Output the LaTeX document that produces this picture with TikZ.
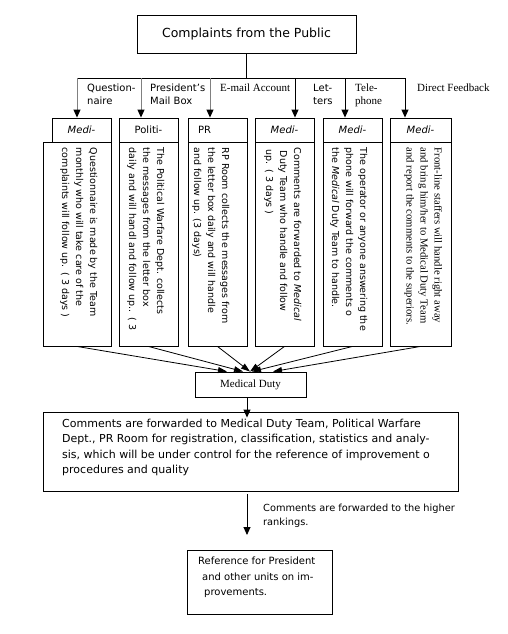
\documentclass[tikz,border=0pt]{standalone}
\usepackage{fontspec}
\setmainfont{DejaVu Sans}
\newfontfamily\serifd{Liberation Serif}
\usetikzlibrary{arrows.meta}
\begin{document}
\begin{tikzpicture}[x=1pt,y=-1pt,
  box/.style={draw, line width=0.9pt, inner sep=0pt},
  arr/.style={line width=0.9pt, -{Triangle[length=8pt,width=7pt]}},
  garr/.style={line width=0.9pt, draw=gray, -{Triangle[length=8pt,width=7pt,color=black]}},
  carr/.style={line width=0.8pt, -{Triangle[length=9pt,width=6pt]}},
  coltext/.style={anchor=north west, rotate=-90, align=left, inner sep=0pt, font=\fontsize{9.5}{14}\selectfont},
  hdr/.style={box, minimum height=24pt, font=\fontsize{10}{12}\selectfont},
  lbl/.style={anchor=north west, inner sep=0pt, align=left, font=\fontsize{10}{13}\selectfont},
  slbl/.style={anchor=north west, inner sep=0pt, align=left, font=\serifd\fontsize{11}{13}\selectfont}]
\fill[white] (0,0) rectangle (508,634);
\useasboundingbox (0,0) rectangle (508,634);

% top
\node[box, minimum width=219pt, minimum height=38pt, font=\fontsize{12.5}{15}\selectfont] (top) at (246.5,34) {Complaints from the Public};
\coordinate (bl) at (77,78);
\coordinate (br) at (405,78);
\draw[line width=0.9pt] (top.south) -- (top.south |- bl);
\draw[line width=0.9pt] (bl) -- (br);

% headers
\node[hdr, minimum width=59pt] (h1) at (81.5,130) {\itshape Medi-};
\node[hdr, minimum width=59pt] (h2) at (148.5,130) {Politi-};
\node[hdr, minimum width=59pt, text width=39pt, align=left] (h3) at (217.5,130) {PR};
\node[hdr, minimum width=59pt] (h4) at (284.5,130) {\itshape Medi-};
\node[hdr, minimum width=59pt] (h5) at (352.5,130) {\itshape Medi-};
\node[hdr, minimum width=61pt] (h6) at (420.5,130) {\itshape Medi-};

% bodies
\node[box, minimum width=68pt, minimum height=204pt] (c1) at (77,244) {};
\node[box, minimum width=59pt, minimum height=204pt] (c2) at (148.5,244) {};
\node[box, minimum width=59pt, minimum height=204pt] (c3) at (217.5,244) {};
\node[box, minimum width=59pt, minimum height=204pt] (c4) at (284.5,244) {};
\node[box, minimum width=59pt, minimum height=204pt] (c5) at (352.5,244) {};
\node[box, minimum width=61pt, minimum height=204pt] (c6) at (420.5,244) {};

% arrows from bus
\coordinate (t1) at (77,78);
\coordinate (t2) at (141,78);
\coordinate (t3) at (210,78);
\coordinate (t4) at (295,78);
\coordinate (t5) at (345,78);
\coordinate (t6) at (405,78);
\draw[garr] (t1) -- (t1 |- h1.north);
\draw[garr] (t2) -- (t2 |- h2.north);
\draw[garr] (t3) -- (t3 |- h3.north);
\draw[arr] (t4) -- (t4 |- h4.north);
\draw[arr] (t5) -- (t5 |- h5.north);
\draw[arr] (t6) -- (t6 |- h6.north);

% labels on bus arrows
\node[lbl] (l1) at (87,84) {Question-\\naire};
\node[lbl] (l2) at (150,84) {President's\\Mail Box};
\node[slbl] (l3) at (220,84) {E-mail Account};
\node[lbl] (l4) at (313,84) {Let-\\ters};
\node[slbl] (l5) at (355,84) {Tele-\\phone};
\node[slbl] (l6) at (417,84) {Direct Feedback};

% column texts
\node[coltext] (x1) at ([xshift=-14pt,yshift=-6pt]c1.north east) {Questionnaire is made by the Team\\monthly who will take care of the\\complaints will follow up.\enspace( 3 days )};
\node[coltext] (x2) at ([xshift=-14pt,yshift=-6pt]c2.north east) {The Political Warfare Dept. collects\\the messages from the letter box\\daily and will handl and follow up..\enspace( 3};
\node[coltext] (x3) at ([xshift=-18pt,yshift=-6pt]c3.north east) {RP Room collects the messages from\\the letter box daily and will handle\\and follow up. (3 days)};
\node[coltext] (x4) at ([xshift=-13pt,yshift=-6pt]c4.north east) {Comments are forwarded to \textit{Medical}\\\hspace*{3pt}Duty Team who handle and follow\\\hspace*{2pt}up.\enspace( 3 days )};
\node[coltext] (x5) at ([xshift=-15pt,yshift=-6pt]c5.north east) {The operator or anyone answering the\\phone will forward the comments o\\the \textit{Medical} Duty Team to handle.};
\node[coltext, font=\serifd\fontsize{10.7}{14}\selectfont] (x6) at ([xshift=-9pt,yshift=-6pt]c6.north east) {Front-line staffers will handle right away\\and bring him/her to Medical Duty Team\\and report the comments to the superiors.};

% medical duty
\node[box, minimum width=111pt, minimum height=25pt, font=\serifd\fontsize{11}{13}\selectfont] (md) at (250.5,384.5) {Medical Duty};
\draw[carr] (c1.south) -- ([xshift=-23.5pt]md.north);
\draw[carr] (c2.south) -- ([xshift=-7.5pt]md.north);
\draw[carr] (c3.south) -- ([xshift=-0.5pt]md.north);
\draw[carr] (c4.south) -- ([xshift=-0.5pt]md.north);
\draw[carr] (c5.south) -- ([xshift=1.5pt]md.north);
\draw[carr] (c6.south) -- ([xshift=22.5pt]md.north);

% big box
\node[box, minimum width=415pt, minimum height=79pt] (big) at (250.5,451.5) {};
\node[anchor=north west, align=left, inner sep=0pt, font=\fontsize{11}{15.3}\selectfont] (bigt) at (62,419) {Comments are forwarded to Medical Duty Team, Political Warfare\\Dept., PR Room for registration, classification, statistics and analy-\\sis, which will be under control for the reference of improvement o\\procedures and quality};
\draw[arr, shorten >=-6pt] ([xshift=-3.5pt]md.south) -- ([xshift=-3.5pt]md.south |- big.north);

% bottom
\coordinate (ta) at (247,535);
\draw[arr] ([yshift=-3pt]big.south -| ta) -- (ta);
\node[lbl, font=\fontsize{9.8}{14}\selectfont] (fl) at (263,504) {Comments are forwarded to the higher\\rankings.};
\node[box, minimum width=145pt, minimum height=64pt] (ref) at (259.5,582) {};
\node[anchor=north west, align=left, inner sep=0pt, font=\fontsize{10}{15.5}\selectfont] (reft) at (198,557) {Reference for President\\\hspace*{4pt}and other units on im-\\\hspace*{6pt}provements.};
\end{tikzpicture}
\end{document}
